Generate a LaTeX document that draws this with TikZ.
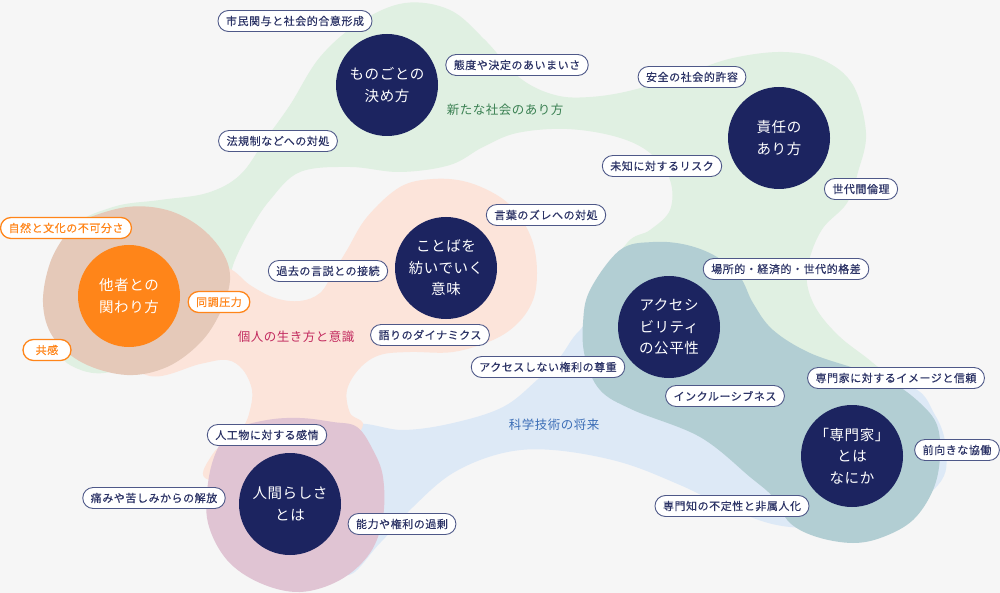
\documentclass[tikz,border=0pt]{standalone}
\usepackage{fontspec}
\setmainfont{Noto Sans CJK JP}
\usepackage{tikz}

\definecolor{bg}{HTML}{F6F6F6}
\definecolor{navy}{HTML}{1C2460}
\definecolor{tagline}{HTML}{4E5888}
\definecolor{tagtext}{HTML}{2C3366}
\definecolor{tashaorange}{HTML}{FF8519}
\definecolor{societygreen}{HTML}{E0F0E2}
\definecolor{selfpeach}{HTML}{FCE4DA}
\definecolor{otherbrown}{HTML}{E5C9B9}
\definecolor{sciblue}{HTML}{DDE9F6}
\definecolor{expertteal}{HTML}{B2CED3}
\definecolor{humanmauve}{HTML}{E0C4D3}
\definecolor{greentext}{HTML}{3A8052}
\definecolor{crimsontext}{HTML}{C2295E}
\definecolor{bluetext}{HTML}{3B6DB6}

\tikzset{
  tag/.style={draw=tagline, fill=white, line width=.9pt, rounded corners=10.5pt,
    minimum height=21pt, minimum width=48pt, inner xsep=8pt, inner ysep=0pt,
    text=tagtext, font=\fontsize{11}{12}\selectfont\addfontfeature{LetterSpace=5,FakeBold=0.4}},
  otag/.style={tag, draw=tashaorange, text=tashaorange, line width=1.3pt},
  topic/.style={circle, fill=navy, minimum size=102pt, inner sep=0pt, text=white,
    align=center, font=\fontsize{14.5}{21.5}\selectfont\addfontfeature{LetterSpace=4}},
  heading/.style={font=\fontsize{12.5}{15}\selectfont\addfontfeature{LetterSpace=4}}
}

\begin{document}
\begin{tikzpicture}[x=1pt,y=-1pt]
\fill[bg] (0,0) rectangle (1000,593);
\useasboundingbox (0,0) rectangle (1000,593);

%green blob
\fill[societygreen] plot[smooth cycle, tension=.6] coordinates {
 (60,345) (45,290) (70,230) (113,207) (160,200) (207,193) (240,175) (265,140)
 (290,105) (320,57) (360,22) (405,3) (450,10) (485,40) (520,78) (555,95)
 (590,97) (633,90) (687,73) (733,58) (783,52) (823,60) (853,85) (866,133)
 (858,172) (847,203) (823,228) (810,257) (807,283) (817,310) (840,337) (873,363)
 (900,390) (860,420) (760,380) (640,320) (600,290) (627,243) (650,230) (670,210)
 (670,180) (650,153) (617,137) (567,129) (517,133) (483,147) (450,165) (400,172)
 (350,167) (300,172) (270,200) (250,230) (235,260) (220,300) (180,340) (110,372)
 (70,365)};
%blue blob
\fill[sciblue] plot[smooth cycle, tension=.6] coordinates {
 (353,425) (403,430) (453,423) (503,407) (537,380) (560,357) (580,330) (620,300)
 (800,380) (905,385) (935,415) (946,450) (938,485) (880,525) (790,527) (733,510)
 (680,485) (620,462) (553,450) (503,453) (453,473) (413,507) (380,543) (345,575)
 (320,520) (330,460)};
%peach blob
\fill[selfpeach] plot[smooth cycle, tension=.6] coordinates {
 (150,300) (190,262) (228,268) (250,285) (275,298) (300,301) (320,293) (333,273)
 (347,250) (367,217) (400,187) (433,179) (467,182) (500,197) (520,217) (533,243)
 (537,273) (533,300) (518,323) (493,340) (453,352) (410,352) (380,355) (360,368)
 (347,390) (350,413) (362,428) (320,470) (250,482) (205,478) (212,455) (227,440)
 (243,427) (250,410) (252,390) (243,370) (227,360) (200,364) (150,376) (110,345)};
%teal blob
\fill[expertteal] plot[smooth cycle, tension=.6] coordinates {
 (585,357) (583,323) (590,290) (620,250) (653,242) (687,245) (717,257) (740,277)
 (753,303) (773,330) (810,353) (860,370) (893,383) (920,403) (937,425) (940,457)
 (933,490) (913,520) (883,537) (853,543) (817,537) (790,523) (773,497) (750,477)
 (700,437) (633,410) (600,390)};
%mauve blob
\fill[humanmauve] plot[smooth cycle, tension=.6] coordinates {
 (233,430) (267,420) (300,418) (333,422) (357,427) (373,450) (383,477) (383,517)
 (370,553) (340,580) (300,592) (260,583) (227,560) (208,523) (208,483) (217,450)};
%brown blob
\fill[otherbrown] plot[smooth cycle, tension=.6] coordinates {
 (43,303) (50,263) (67,233) (83,220) (127,207) (167,210) (200,227) (223,253)
 (230,280) (220,313) (200,343) (167,367) (127,375) (83,363) (53,337)};

%headings
\node[heading, text=greentext] (society) at (505,110) {新たな社会のあり方};
\node[heading, text=crimsontext] (self) at (296,337) {個人の生き方と意識};
\node[heading, text=bluetext] (science) at (554,425) {科学技術の将来};

%topics
\node[topic] (kimekata) at (387,85) {ものごとの\\決め方};
\node[topic] (sekinin) at (779,138) {責任の\\あり方};
\node[topic] (kotoba) at (446,268) {ことばを\\紡いでいく\\意味};
\node[topic, fill=tashaorange] (tasha) at (129,296) {他者との\\関わり方};
\node[topic] (access) at (669,327) {アクセシ\\ビリティ\\の公平性};
\node[topic] (senmonka) at (852,456) {「専門家」\\とは\\なにか};
\node[topic] (ningen) at (290,504) {人間らしさ\\とは};

%tags
\foreach \n/\x/\y/\t in {
  goui/295/21/市民関与と社会的合意形成,
  aimai/517/65/態度や決定のあいまいさ,
  hoki/278/141/法規制などへの対処,
  anzen/692/77/安全の社会的許容,
  michi/662/166/未知に対するリスク,
  sedai/861/189/世代間倫理,
  zure/546/215/言葉のズレへの対処,
  kakusa/786/269/場所的・経済的・世代的格差,
  kako/328/271/過去の言説との接続,
  katari/430/335/語りのダイナミクス,
  sonchou/548/367/アクセスしない権利の尊重,
  inclusive/725/396/インクルーシブネス,
  shinrai/896/378/専門家に対するイメージと信頼,
  kyoudou/957/450/前向きな協働,
  futeisei/732/506/専門知の不定性と非属人化,
  jinkou/267/435/人工物に対する感情,
  kaihou/154/498/痛みや苦しみからの解放,
  kajou/402/524/能力や権利の過剰}{
\node[tag] (\n) at (\x,\y) {\t};
}
\foreach \n/\x/\y/\t in {
  fukabun/66/228/自然と文化の不可分さ,
  douchou/219/302/同調圧力,
  kyoukan/47/350/共感}{
\node[otag] (\n) at (\x,\y) {\t};
}
\end{tikzpicture}
\end{document}
